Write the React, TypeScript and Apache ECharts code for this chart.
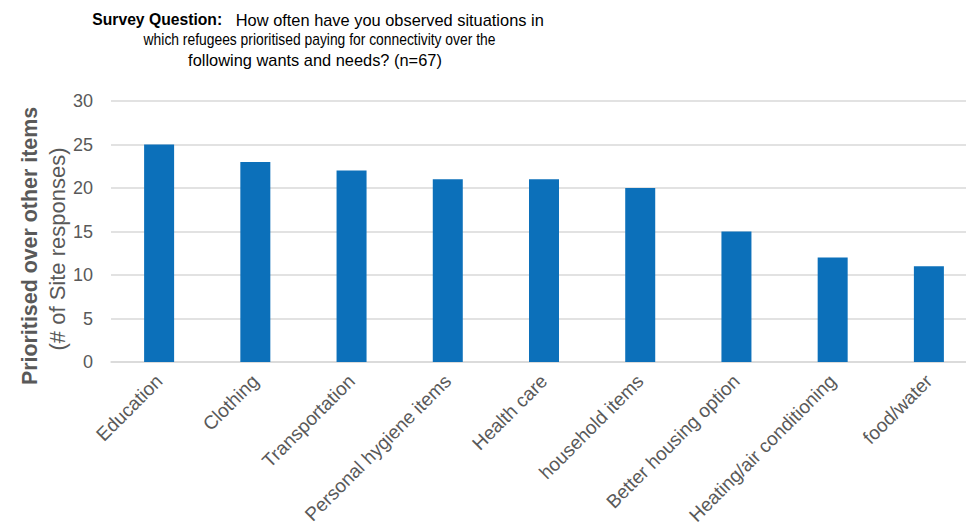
import React, { useEffect, useRef } from "react";
import * as echarts from "echarts";

const categories = [
  "Education",
  "Clothing",
  "Transportation",
  "Personal hygiene items",
  "Health care",
  "household items",
  "Better housing option",
  "Heating/air conditioning",
  "food/water",
];
const values = [25, 23, 22, 21, 21, 20, 15, 12, 11];
const yTicks = [0, 5, 10, 15, 20, 25, 30];
const titleLines = [
  "{b|Survey Question:}   How often have you observed situations in",
  "which refugees prioritised paying for connectivity over the",
  "following wants and needs? (n=67)",
];
const yTitleBold = "Prioritised over other items";
const yTitleNormal = "(# of Site responses)";

const FONT = "'Liberation Sans', Arial, Helvetica, sans-serif";

const titleX = [318, 319.5, 315];
const titleScale = [1, 0.845, 1];

export default function App() {
  const ref = useRef<HTMLDivElement>(null);
  useEffect(() => {
    if (!ref.current) return;
    const chart = echarts.init(ref.current, undefined, { renderer: "svg" });
    chart.setOption({
      animation: false,
      backgroundColor: "#ffffff",
      textStyle: { fontFamily: FONT },
      grid: { left: 111, right: 0, top: 101, bottom: 167, containLabel: false },
      xAxis: {
        type: "category",
        data: categories,
        axisLine: { show: true, lineStyle: { color: "#d9d9d9", width: 1.5 } },
        axisTick: { show: false },
        axisLabel: {
          interval: 0,
          rotate: 45,
          fontSize: 19,
          color: "#595959",
          fontFamily: FONT,
          margin: 16,
        },
      },
      yAxis: {
        type: "value",
        min: yTicks[0],
        max: yTicks[yTicks.length - 1],
        interval: 5,
        axisLine: { show: false },
        axisTick: { show: false },
        splitLine: { lineStyle: { color: "#d9d9d9", width: 1.5 } },
        axisLabel: { fontSize: 18, color: "#595959", fontFamily: FONT, margin: 18 },
      },
      series: [
        {
          type: "bar",
          data: values,
          barWidth: 30,
          itemStyle: { color: "#0c70ba" },
        },
      ],
      graphic: [
        ...titleLines.map((t, i) => ({
          type: "text",
          x: titleX[i],
          y: 19.5 + i * 20,
          scaleX: titleScale[i],
          style: {
            text: t,
            fontSize: 16.4,
            fontFamily: FONT,
            fill: "#000000",
            textAlign: "center",
            textVerticalAlign: "middle",
            rich: { b: { fontWeight: "bold", fontSize: 15.7, fontFamily: FONT, fill: "#000000" } },
          },
        })),
        {
          type: "text",
          x: 30,
          y: 246,
          rotation: Math.PI / 2,
          style: {
            text: yTitleBold,
            fontSize: 21.4,
            fontWeight: "bold",
            fontFamily: FONT,
            fill: "#595959",
            textAlign: "center",
            textVerticalAlign: "middle",
          },
        },
        {
          type: "text",
          x: 57,
          y: 249,
          rotation: Math.PI / 2,
          style: {
            text: yTitleNormal,
            fontSize: 22,
            fontFamily: FONT,
            fill: "#595959",
            textAlign: "center",
            textVerticalAlign: "middle",
          },
        },
      ],
    });
    return () => chart.dispose();
  }, []);
  return (
    <div
      style={{
        position: "fixed",
        left: 0,
        top: 0,
        width: 966,
        height: 529,
        overflow: "hidden",
        background: "#fff",
      }}
    >
      <div ref={ref} style={{ width: 977, height: 529 }} />
    </div>
  );
}
